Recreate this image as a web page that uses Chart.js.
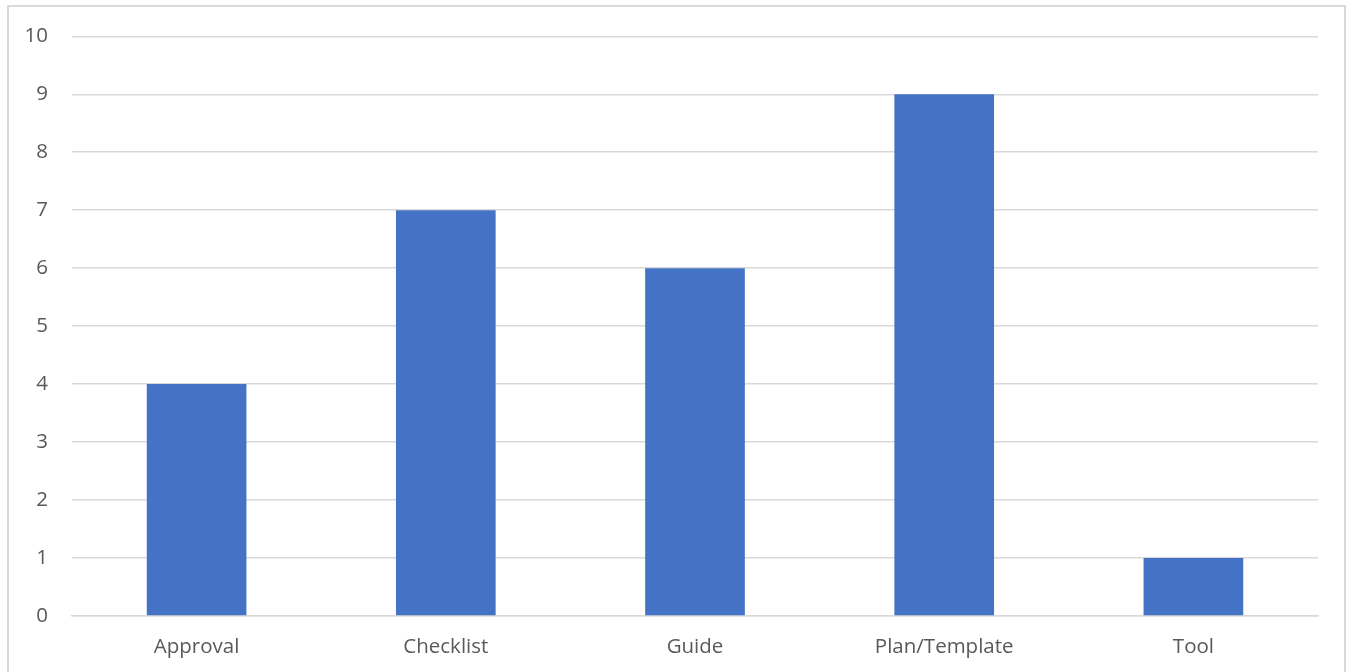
<!DOCTYPE html>
<html>
<head>
<meta charset="utf-8">
<script src="https://cdn.jsdelivr.net/npm/chart.js@4/dist/chart.umd.min.js"></script>
<style>
  html, body { margin: 0; padding: 0; background: #ffffff; overflow: hidden; }
  #frame {
    position: absolute; left: 7px; top: 5px; width: 1339px; height: 700px;
    border: 2px solid #d9d9d9; box-sizing: border-box;
  }
  #wrap { position: absolute; left: 0; top: 0; width: 1355px; height: 672px; }
</style>
</head>
<body>
<div id="frame"></div>
<div id="wrap"><canvas id="chart" width="1355" height="672"></canvas></div>
<script>
// Resource types and how many of each were counted
const categories = ["Approval", "Checklist", "Guide", "Plan/Template", "Tool"];
const counts = [4, 7, 6, 9, 1];
const yTicks = [0, 1, 2, 3, 4, 5, 6, 7, 8, 9, 10];

const fontFamily = "'Open Sans', 'Noto Sans', sans-serif";
const labelFont = { family: fontFamily, size: 20.5 };

new Chart(document.getElementById("chart"), {
  type: "bar",
  data: {
    labels: categories,
    datasets: [{
      data: counts,
      backgroundColor: "#4472c4",
      borderWidth: 0,
      categoryPercentage: 0.4,
      barPercentage: 1.0
    }]
  },
  options: {
    responsive: false,
    animation: false,
    layout: { padding: { left: 0, right: 37, top: 35, bottom: 0 } },
    plugins: { legend: { display: false }, tooltip: { enabled: false } },
    scales: {
      x: {
        grid: { display: false, drawTicks: false },
        border: { display: true, color: "#d9d9d9", width: 1.5 },
        ticks: { color: "#595959", font: labelFont, padding: 19 },
        afterFit: (axis) => { axis.height = 56; }
      },
      y: {
        min: 0, max: 10,
        afterBuildTicks: (axis) => { axis.ticks = yTicks.map(v => ({ value: v })); },
        grid: { color: "#d9d9d9", lineWidth: 1.5, drawTicks: false },
        border: { display: false },
        ticks: { color: "#595959", font: labelFont, padding: 24 },
        afterFit: (axis) => { axis.width = 72; }
      }
    }
  }
});
</script>
</body>
</html>
